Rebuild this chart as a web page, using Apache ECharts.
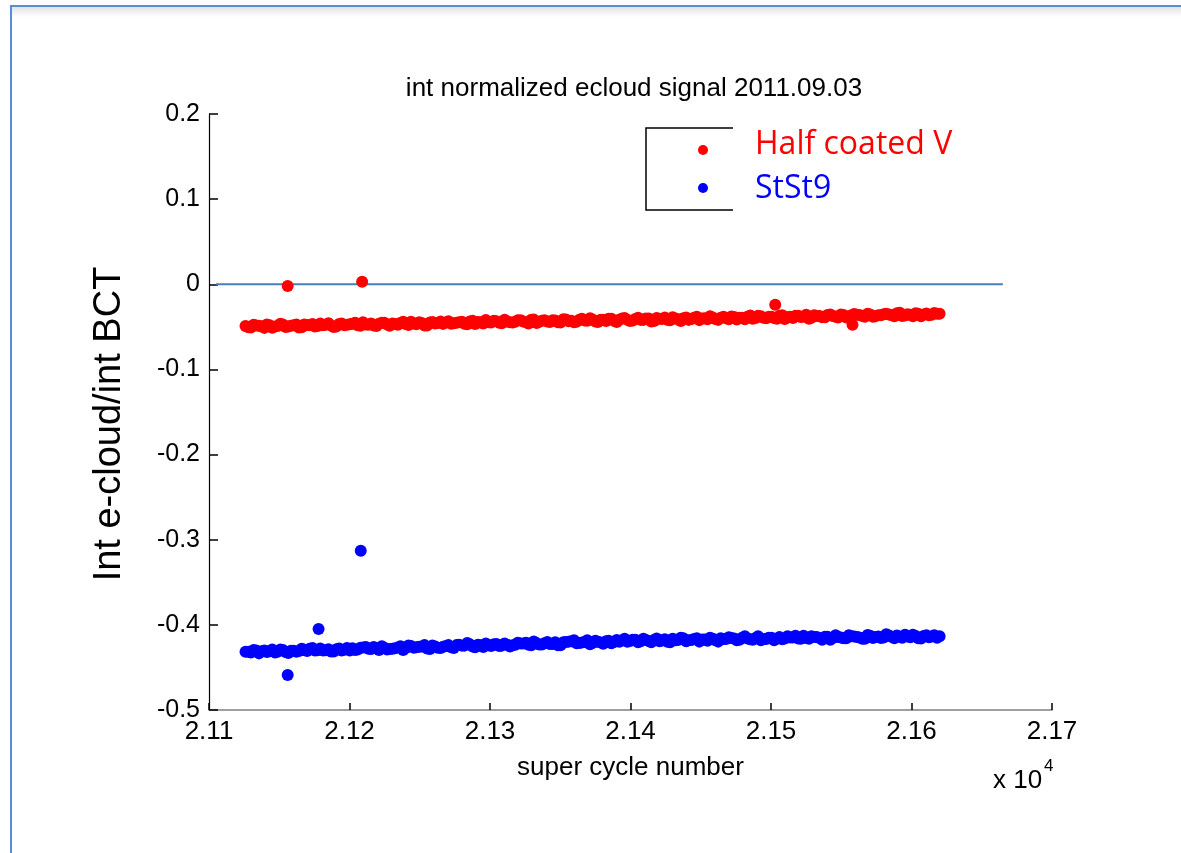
<!DOCTYPE html>
<html>
<head>
<meta charset="utf-8">
<script src="https://cdn.jsdelivr.net/npm/echarts@6/dist/echarts.min.js"></script>
<style>
  html, body { margin: 0; padding: 0; background: #ffffff; }
  #chart { width: 1181px; height: 853px; }
</style>
</head>
<body>
<div id="chart"></div>
<script>
// ---- data ----
const titleText = 'int normalized ecloud signal 2011.09.03';
const xAxisName = 'super cycle number';
const yAxisName = 'Int e-cloud/int BCT';
const seriesNames = ['Half coated V', 'StSt9'];
const cycleStartA = 21126;  // first super cycle of run A
const cycleStartB = 21128;  // first super cycle of run B (interleaved)
const cycleStep = 3.8;      // spacing of plotted cycles in each run
const yTicks = [-0.5, -0.4, -0.3, -0.2, -0.1, 0, 0.1, 0.2];
const xTicks = [21100, 21200, 21300, 21400, 21500, 21600, 21700];

// Half coated V, run A
const halfCoatedA = [
  -0.0490, -0.0509, -0.0483, -0.0497, -0.0471, -0.0510, -0.0489, -0.0473, -0.0497, -0.0481,
  -0.0509, -0.0473, -0.0482, -0.0496, -0.0460, -0.0474, -0.0483, -0.0497, -0.0461, -0.0475,
  -0.0463, -0.0482, -0.0446, -0.0475, -0.0484, -0.0463, -0.0452, -0.0486, -0.0465, -0.0454,
  -0.0467, -0.0441, -0.0470, -0.0454, -0.0483, -0.0442, -0.0456, -0.0465, -0.0434, -0.0458,
  -0.0445, -0.0464, -0.0438, -0.0467, -0.0446, -0.0420, -0.0449, -0.0433, -0.0457, -0.0436,
  -0.0449, -0.0423, -0.0437, -0.0461, -0.0415, -0.0439, -0.0423, -0.0442, -0.0426, -0.0450,
  -0.0413, -0.0427, -0.0441, -0.0405, -0.0429, -0.0413, -0.0442, -0.0416, -0.0405, -0.0429,
  -0.0417, -0.0396, -0.0430, -0.0409, -0.0418, -0.0402, -0.0436, -0.0395, -0.0409, -0.0418,
  -0.0386, -0.0410, -0.0399, -0.0418, -0.0392, -0.0421, -0.0400, -0.0374, -0.0408, -0.0392,
  -0.0400, -0.0379, -0.0413, -0.0392, -0.0381, -0.0405, -0.0369, -0.0393, -0.0382, -0.0396,
  -0.0369, -0.0408, -0.0382, -0.0371, -0.0385, -0.0359, -0.0393, -0.0372, -0.0386, -0.0360,
  -0.0372, -0.0391, -0.0360, -0.0374, -0.0348, -0.0362, -0.0381, -0.0355, -0.0374, -0.0363,
  -0.0346, -0.0365, -0.0339, -0.0373, -0.0352, -0.0376, -0.0345, -0.0354, -0.0363, -0.0337,
  -0.0345
];
// Half coated V, run B
const halfCoatedB = [
  -0.0505, -0.0474, -0.0488, -0.0512, -0.0481, -0.0495, -0.0464, -0.0503, -0.0487, -0.0471,
  -0.0504, -0.0478, -0.0467, -0.0491, -0.0480, -0.0459, -0.0503, -0.0467, -0.0481, -0.0470,
  -0.0453, -0.0487, -0.0471, -0.0460, -0.0489, -0.0453, -0.0472, -0.0461, -0.0475, -0.0439,
  -0.0477, -0.0461, -0.0445, -0.0484, -0.0448, -0.0462, -0.0436, -0.0450, -0.0464, -0.0453,
  -0.0440, -0.0469, -0.0428, -0.0442, -0.0461, -0.0445, -0.0429, -0.0453, -0.0417, -0.0446,
  -0.0439, -0.0423, -0.0447, -0.0416, -0.0455, -0.0429, -0.0438, -0.0422, -0.0446, -0.0410,
  -0.0433, -0.0447, -0.0416, -0.0425, -0.0399, -0.0438, -0.0417, -0.0431, -0.0405, -0.0444,
  -0.0402, -0.0416, -0.0425, -0.0394, -0.0418, -0.0402, -0.0431, -0.0405, -0.0389, -0.0423,
  -0.0401, -0.0430, -0.0389, -0.0408, -0.0382, -0.0401, -0.0410, -0.0389, -0.0418, -0.0382,
  -0.0410, -0.0384, -0.0393, -0.0412, -0.0366, -0.0395, -0.0374, -0.0398, -0.0382, -0.0406,
  -0.0364, -0.0388, -0.0397, -0.0371, -0.0380, -0.0404, -0.0363, -0.0372, -0.0386, -0.0355,
  -0.0382, -0.0356, -0.0390, -0.0364, -0.0358, -0.0372, -0.0346, -0.0380, -0.0364, -0.0353,
  -0.0356, -0.0375, -0.0334, -0.0368, -0.0357, -0.0341, -0.0375, -0.0344, -0.0358, -0.0347
];
const halfCoatedOutliers = [[21156, -0.002], [21209, 0.003], [21503, -0.024], [21558, -0.0475]];

// StSt9, run A
const stSt9A = [
  -0.4315, -0.4325, -0.4300, -0.4310, -0.4320, -0.4290, -0.4315, -0.4295, -0.4330, -0.4305,
  -0.4307, -0.4292, -0.4282, -0.4302, -0.4277, -0.4297, -0.4312, -0.4287, -0.4302, -0.4272,
  -0.4275, -0.4290, -0.4265, -0.4280, -0.4260, -0.4295, -0.4270, -0.4285, -0.4275, -0.4250,
  -0.4273, -0.4248, -0.4263, -0.4253, -0.4278, -0.4243, -0.4268, -0.4258, -0.4238, -0.4273,
  -0.4234, -0.4244, -0.4229, -0.4264, -0.4239, -0.4219, -0.4249, -0.4224, -0.4244, -0.4234,
  -0.4240, -0.4210, -0.4220, -0.4235, -0.4195, -0.4230, -0.4215, -0.4225, -0.4205, -0.4240,
  -0.4202, -0.4192, -0.4217, -0.4207, -0.4182, -0.4212, -0.4197, -0.4222, -0.4187, -0.4202,
  -0.4199, -0.4164, -0.4189, -0.4174, -0.4194, -0.4179, -0.4204, -0.4159, -0.4184, -0.4199,
  -0.4162, -0.4177, -0.4157, -0.4182, -0.4167, -0.4197, -0.4172, -0.4152, -0.4182, -0.4157,
  -0.4165, -0.4155, -0.4180, -0.4150, -0.4160, -0.4175, -0.4135, -0.4165, -0.4150, -0.4180,
  -0.4144, -0.4159, -0.4149, -0.4129, -0.4164, -0.4154, -0.4134, -0.4144, -0.4174, -0.4139,
  -0.4153, -0.4143, -0.4158, -0.4123, -0.4138, -0.4148, -0.4163, -0.4128, -0.4143, -0.4153,
  -0.4111, -0.4141, -0.4126, -0.4151, -0.4136, -0.4116, -0.4156, -0.4131, -0.4146, -0.4121,
  -0.4135
];
// StSt9, run B
const stSt9B = [
  -0.4315, -0.4295, -0.4335, -0.4300, -0.4310, -0.4325, -0.4290, -0.4320, -0.4305, -0.4315,
  -0.4282, -0.4307, -0.4272, -0.4297, -0.4302, -0.4287, -0.4312, -0.4277, -0.4292, -0.4302,
  -0.4295, -0.4270, -0.4260, -0.4285, -0.4275, -0.4250, -0.4290, -0.4280, -0.4265, -0.4295,
  -0.4243, -0.4268, -0.4258, -0.4238, -0.4283, -0.4253, -0.4273, -0.4248, -0.4263, -0.4238,
  -0.4244, -0.4214, -0.4254, -0.4234, -0.4259, -0.4239, -0.4229, -0.4249, -0.4219, -0.4254,
  -0.4235, -0.4220, -0.4210, -0.4240, -0.4215, -0.4230, -0.4200, -0.4225, -0.4240, -0.4205,
  -0.4197, -0.4182, -0.4212, -0.4202, -0.4227, -0.4187, -0.4207, -0.4192, -0.4217, -0.4177,
  -0.4184, -0.4199, -0.4174, -0.4204, -0.4164, -0.4189, -0.4179, -0.4194, -0.4169, -0.4204,
  -0.4182, -0.4152, -0.4192, -0.4177, -0.4157, -0.4172, -0.4187, -0.4162, -0.4197, -0.4167,
  -0.4145, -0.4160, -0.4175, -0.4135, -0.4170, -0.4155, -0.4180, -0.4165, -0.4150, -0.4160,
  -0.4169, -0.4134, -0.4149, -0.4159, -0.4129, -0.4164, -0.4144, -0.4154, -0.4139, -0.4174,
  -0.4123, -0.4148, -0.4158, -0.4133, -0.4143, -0.4163, -0.4118, -0.4153, -0.4138, -0.4148,
  -0.4126, -0.4156, -0.4141, -0.4116, -0.4146, -0.4131, -0.4161, -0.4121, -0.4136, -0.4151
];
const stSt9Outliers = [[21156, -0.459], [21178, -0.405], [21208, -0.313]];

const zeroLine = [[21105, 0], [21665, 0]];

// ---- build ----
function pair(vals, start) {
  return vals.map((v, i) => [start + cycleStep * i, v]);
}
const redData = pair(halfCoatedA, cycleStartA)
  .concat(pair(halfCoatedB, cycleStartB))
  .concat(halfCoatedOutliers);
const blueData = pair(stSt9A, cycleStartA)
  .concat(pair(stSt9B, cycleStartB))
  .concat(stSt9Outliers);

const FONT = '"Liberation Sans", Arial, sans-serif';
const LEGEND_FONT = '"Open Sans", sans-serif';
const chart = echarts.init(document.getElementById('chart'), null, { renderer: 'canvas' });

chart.setOption({
  animation: false,
  backgroundColor: '#ffffff',
  title: {
    text: titleText,
    left: 629,
    top: 71,
    textAlign: 'center',
    textStyle: { fontFamily: FONT, fontSize: 26, fontWeight: 'normal', color: '#000' }
  },
  grid: { left: 209, right: 129, top: 114, bottom: 143 },
  xAxis: {
    type: 'value',
    min: 21100, max: 21700, interval: 100,
    name: xAxisName,
    nameLocation: 'middle',
    nameGap: 45,
    nameTextStyle: { fontFamily: FONT, fontSize: 26, color: '#000' },
    axisLine: { show: true, onZero: false, lineStyle: { color: '#808080', width: 1.5 } },
    axisTick: { show: true, inside: true, length: 7, lineStyle: { color: '#000', width: 1.5 } },
    axisLabel: {
      margin: 9, fontFamily: FONT, fontSize: 26, color: '#000',
      formatter: v => (v / 10000).toFixed(2)
    },
    splitLine: { show: false }
  },
  yAxis: {
    type: 'value',
    min: -0.5, max: 0.2, interval: 0.1,
    axisLine: { show: true, onZero: false, lineStyle: { color: '#000', width: 1.2 } },
    axisTick: { show: true, inside: true, length: 9, lineStyle: { color: '#000', width: 1.5 } },
    axisLabel: {
      margin: 9, fontFamily: FONT, fontSize: 25, color: '#000',
      formatter: v => String(Math.round(v * 10) / 10)
    },
    splitLine: { show: false }
  },
  series: [
    {
      name: 'zero',
      type: 'line',
      data: zeroLine,
      symbol: 'none',
      silent: true,
      z: 1,
      lineStyle: { color: '#4a7ebb', width: 2 }
    },
    {
      name: seriesNames[0],
      type: 'scatter',
      data: redData,
      symbol: 'circle',
      symbolSize: 12,
      z: 3,
      itemStyle: { color: '#ff0000', opacity: 1 }
    },
    {
      name: seriesNames[1],
      type: 'scatter',
      data: blueData,
      symbol: 'circle',
      symbolSize: 12,
      z: 3,
      itemStyle: { color: '#0000ff', opacity: 1 }
    }
  ],
  graphic: [
    // page frame (document border)
    { type: 'rect', shape: { x: 10, y: 7, width: 1171, height: 10 }, silent: true,
      style: { fill: new echarts.graphic.LinearGradient(0, 0, 0, 1, [
        { offset: 0, color: '#e2e2e2' }, { offset: 1, color: '#ffffff' }]) } },
    { type: 'rect', shape: { x: 10, y: 5, width: 1171, height: 2 }, silent: true, style: { fill: '#5b8bd0' } },
    { type: 'rect', shape: { x: 10, y: 5, width: 2, height: 848 }, silent: true, style: { fill: '#5b8bd0' } },
    // y axis name
    { type: 'text', x: 110, y: 424, rotation: Math.PI / 2, silent: true,
      style: { text: yAxisName, fontFamily: FONT, fontSize: 38, fill: '#000',
               align: 'center', verticalAlign: 'middle' } },
    // x 10^4 multiplier
    { type: 'text', x: 993, y: 781, silent: true,
      style: { text: 'x 10', fontFamily: FONT, fontSize: 26, fill: '#000', align: 'left', verticalAlign: 'middle' } },
    { type: 'text', x: 1044, y: 766, silent: true,
      style: { text: '4', fontFamily: FONT, fontSize: 17, fill: '#000', align: 'left', verticalAlign: 'middle' } },
    // legend box
    { type: 'polyline', silent: true, shape: { points: [[733, 128], [646, 128], [646, 210], [733, 210]] },
      style: { stroke: '#000', lineWidth: 1.5, fill: null } },
    { type: 'circle', silent: true, shape: { cx: 703, cy: 150, r: 5 }, style: { fill: '#ff0000' } },
    { type: 'circle', silent: true, shape: { cx: 703, cy: 188, r: 5 }, style: { fill: '#0000ff' } },
    { type: 'text', x: 755, y: 145, silent: true,
      style: { text: seriesNames[0], fontFamily: LEGEND_FONT, fontSize: 32, fill: '#ff0000',
               align: 'left', verticalAlign: 'middle' } },
    { type: 'text', x: 755, y: 189, silent: true,
      style: { text: seriesNames[1], fontFamily: LEGEND_FONT, fontSize: 32, fill: '#0000ff',
               align: 'left', verticalAlign: 'middle' } }
  ]
});
</script>
</body>
</html>
